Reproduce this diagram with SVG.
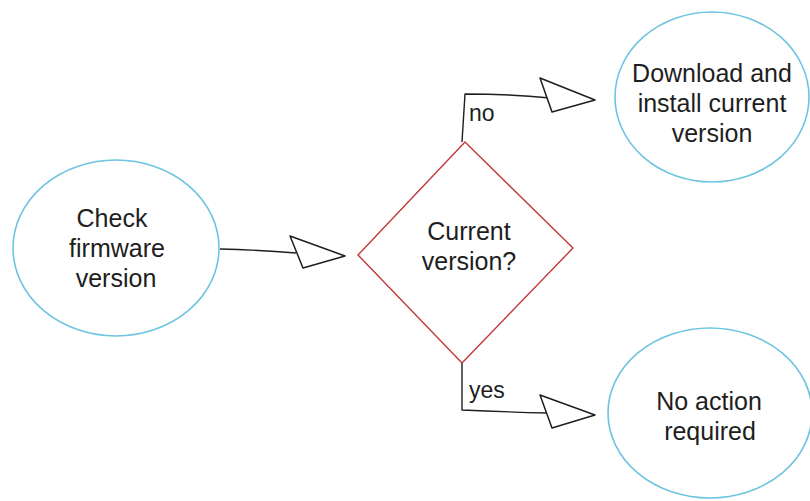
<svg xmlns="http://www.w3.org/2000/svg" width="810" height="501" viewBox="0 0 810 501">
<style>
.node{fill:#fff;stroke:#6cc4e0;stroke-width:1.6}
.dec{fill:#fff;stroke:#c0393b;stroke-width:1.4}
.t{font-family:"Liberation Sans",Arial,sans-serif;font-size:25px;fill:#1e1e1e;text-anchor:middle}
.lbl{font-family:"Liberation Sans",Arial,sans-serif;font-size:23px;fill:#1e1e1e}
.ln{fill:none;stroke:#1e1e1e;stroke-width:1.4;stroke-linejoin:round}
.ah{fill:#fff;stroke:#1e1e1e;stroke-width:1.5;stroke-linejoin:round}
</style>
<rect width="810" height="501" fill="#fff"/>
<g id="connectors">
<path class="ln" d="M220 249 Q260 250 296 253"/>
<polygon class="ah" points="290,236 345,256 303,268"/>
<path class="ln" d="M462 142 L465 94 Q510 94 550 98"/>
<polygon class="ah" points="540,78 595,100 552,112"/>
<path class="ln" d="M462 363 L462 410 Q505 412 548 413"/>
<polygon class="ah" points="540,395 595,415 552,428"/>
</g>
<g id="check">
<ellipse class="node" cx="116" cy="248" rx="103" ry="88"/>
<text class="t" x="112" y="227">Check</text>
<text class="t" x="117" y="257">firmware</text>
<text class="t" x="116" y="287">version</text>
</g>
<g id="decision">
<polygon class="dec" points="465,142 573,248 462,363 358,255"/>
<text class="t" x="469" y="240">Current</text>
<text class="t" x="469" y="270">version?</text>
</g>
<g id="download">
<ellipse class="node" cx="712" cy="97" rx="97" ry="85"/>
<text class="t" x="712" y="82">Download and</text>
<text class="t" x="712" y="112">install current</text>
<text class="t" x="712" y="142">version</text>
</g>
<g id="noaction">
<ellipse class="node" cx="710" cy="413" rx="102" ry="85"/>
<text class="t" x="709" y="410">No action</text>
<text class="t" x="710" y="440">required</text>
</g>
<text class="lbl" x="469" y="121">no</text>
<text class="lbl" x="469" y="398">yes</text>
</svg>
